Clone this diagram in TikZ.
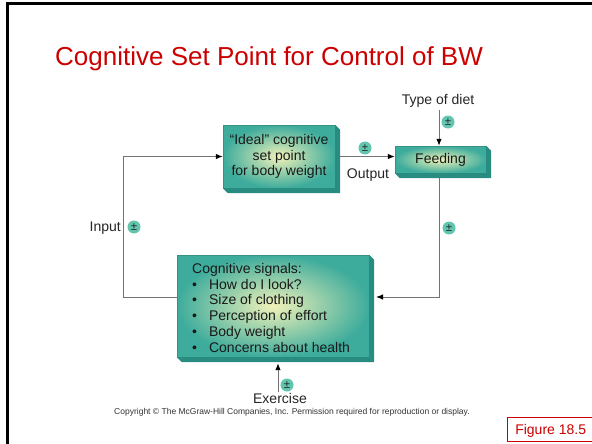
\documentclass[tikz,border=0pt]{standalone}
\usepackage{fontspec}
\setmainfont{Liberation Sans}
\usetikzlibrary{calc,arrows.meta}

\definecolor{tealE}{RGB}{62,172,156}
\definecolor{tealC}{RGB}{240,242,185}
\definecolor{tealD}{RGB}{40,140,128}
\definecolor{pmfill}{RGB}{98,198,174}
\definecolor{slidered}{RGB}{204,0,0}
\definecolor{wirec}{RGB}{115,115,115}

\newcommand\lbl{\fontsize{14}{15.8}\selectfont}
\newcommand\drawbevel[1]{%
  \fill[bevel] (#1.north east) -- ++(5,5) -- ($(#1.south east)+(5,5)$)
    -- ($(#1.south west)+(5,5)$) -- (#1.south west) -- (#1.south east) -- cycle;}

\tikzset{
  frontbox/.style={inner sep=0pt, inner color=tealC, outer color=tealE,
    draw=tealE!85!black, line width=0.3pt, align=center, font=\lbl, text=black!90},
  bevel/.style={fill=tealD},
  wire/.style={draw=wirec, line width=1pt},
  tip/.style={-{Latex[length=7pt,width=5.5pt,color=black]}},
  pm/.style={circle, fill=pmfill, inner sep=0pt, minimum size=13pt,
    font=\fontsize{11.5}{11.5}\selectfont, text=black!85},
  lab/.style={font=\lbl, inner sep=0pt, text=black!85}
}

\begin{document}
\begin{tikzpicture}[x=1pt,y=-1pt]
\useasboundingbox (0,0) rectangle (592,444);
\fill[white] (0,0) rectangle (592,444);

% slide frame
\draw[line width=3pt] (7,446) -- (7,4) -- (594,4);

% title
\node[anchor=base west, inner sep=0pt, text=slidered,
  font=\fontsize{26}{28}\selectfont] (title) at (55,66)
  {Cognitive Set Point for Control of BW};

% boxes
\node[frontbox, minimum width=112pt, minimum height=63pt] (ideal) at (279,156.5)
  {“Ideal” cognitive\\set point\\for body weight};
\drawbevel{ideal}
\node[frontbox, minimum width=91pt, minimum height=27pt] (feed) at (440.5,159.5)
  {Feeding};
\drawbevel{feed}
\node[frontbox, minimum width=192pt, minimum height=102pt] (sig) at (273,306) {};
\drawbevel{sig}
\node[anchor=north west, font=\lbl, inner sep=0pt, text=black!90] (sigtext) at (192,262)
  {\begin{tabular}{@{}l@{\hspace{12pt}}l@{}}
    \multicolumn{2}{@{}l@{}}{Cognitive signals:}\\
    \textbullet & How do I look?\\
    \textbullet & Size of clothing\\
    \textbullet & Perception of effort\\
    \textbullet & Body weight\\
    \textbullet & Concerns about health
  \end{tabular}};

% labels
\node[lab, anchor=base] (diet) at (438,105) {Type of diet};
\node[lab, anchor=base] (outlab) at (368,178) {Output};
\node[lab, anchor=base east] (inlab) at (121,231) {Input};
\node[lab, anchor=base] (exlab) at (280,403.5) {Exercise};
\node[anchor=base, inner sep=0pt, text=black!80,
  font=\fontsize{8.5}{9}\selectfont] (copy) at (292,414)
  {Copyright © The McGraw-Hill Companies, Inc. Permission required for reproduction or display.};

% connector end points
\coordinate (dietTop) at (439,110);
\coordinate (exBot) at (278,392);
\coordinate (sigBase) at ($(sig.south)+(0,6)$);
\coordinate (feedBase) at ($(feed.south)+(0,5)$);
\coordinate (sigIn) at (376,297);
\coordinate (sigOut) at ($(sig.west)+(0,-9)$);

% connectors
\draw[wire, tip] (dietTop) -- (dietTop |- feed.north);
\draw[wire, tip] ($(ideal.east)+(5,0)$) -- (ideal.east -| feed.west);
\draw[wire, tip] (feedBase -| dietTop) |- (sigIn);
\draw[wire, tip] (sigOut) -- ++(-53,0) |- (ideal.west);
\draw[wire, tip] (exBot) -- (exBot |- sigBase);

% sign markers
\node[pm] (pmDiet) at (448,122) {±};
\node[pm] (pmOut) at (365,148) {±};
\node[pm] (pmFeed) at (449,228) {±};
\node[pm] (pmIn) at (134,227) {±};
\node[pm] (pmEx) at (287,385) {±};

% figure tag
\node[draw=slidered, line width=1.4pt, text=slidered, font=\fontsize{14}{16}\selectfont,
  anchor=north west, minimum width=90pt, minimum height=24pt, inner sep=0pt,
  text depth=0pt] (fig) at (507,417) {\hspace*{-4pt}Figure 18.5};
\end{tikzpicture}
\end{document}
